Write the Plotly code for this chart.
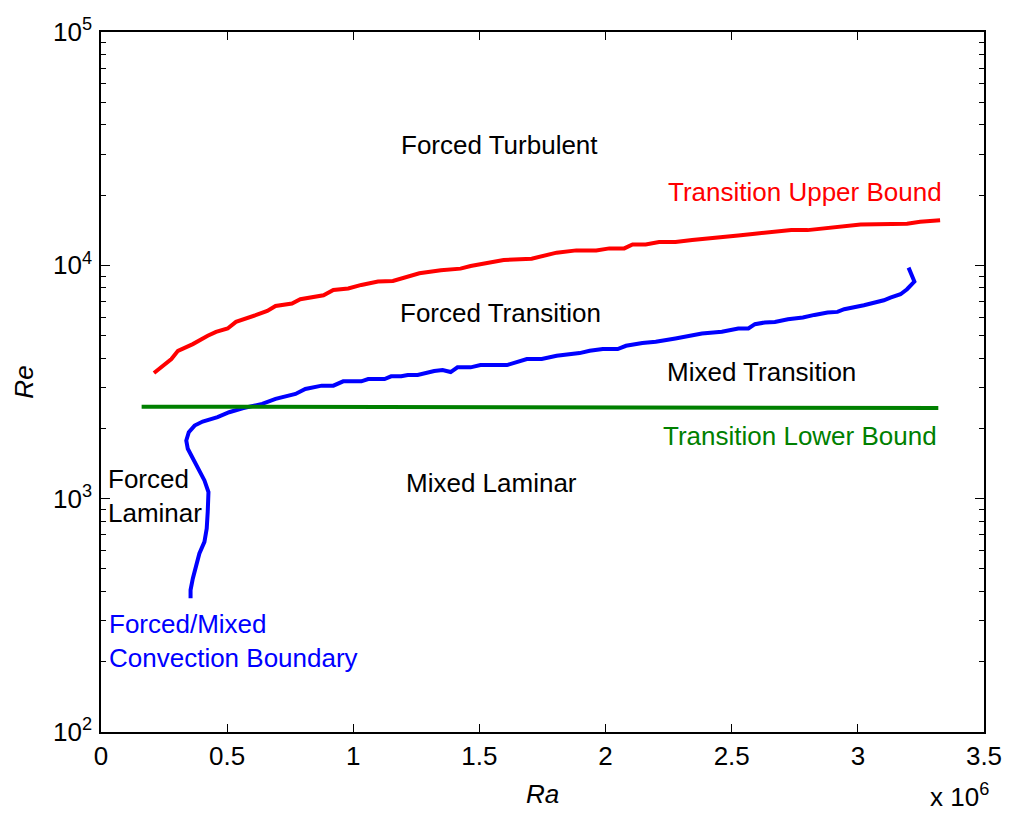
import math
import plotly.graph_objects as go

# Rayleigh number (units of 1e6) and Reynolds number along each regime boundary
upper_ra = [0.210, 0.246, 0.279, 0.305, 0.364, 0.423, 0.456, 0.502, 0.535, 0.613,
            0.659, 0.692, 0.757, 0.790, 0.849, 0.882, 0.921, 0.980, 1.032, 1.098,
            1.157, 1.203, 1.262, 1.347, 1.425, 1.465, 1.543, 1.596, 1.707, 1.806,
            1.884, 1.963, 2.015, 2.074, 2.107, 2.159, 2.212, 2.277, 2.343, 2.422,
            2.526, 2.592, 2.671, 2.736, 2.801, 2.854, 2.933, 3.011, 3.195, 3.247,
            3.326]
upper_re = [3455, 3712, 3966, 4302, 4597, 4989, 5188, 5364, 5723, 6113,
            6377, 6698, 6858, 7155, 7346, 7442, 7845, 7955, 8241, 8520,
            8571, 8861, 9244, 9520, 9681, 9931, 10268, 10534, 10680, 11332,
            11590, 11590, 11820, 11820, 12294, 12294, 12580, 12580, 12829, 13137,
            13436, 13664, 13932, 14155, 14155, 14349, 14723, 14970, 15073, 15375,
            15618]

boundary_ra = [0.355, 0.355, 0.364, 0.377, 0.390, 0.410, 0.419, 0.423, 0.426, 0.410,
               0.390, 0.371, 0.358, 0.344, 0.338, 0.348, 0.371, 0.403, 0.462, 0.508,
               0.561, 0.639, 0.692, 0.771, 0.810, 0.875, 0.921, 0.960, 1.032, 1.059,
               1.124, 1.150, 1.190, 1.216, 1.255, 1.295, 1.321, 1.354, 1.386, 1.413,
               1.465, 1.504, 1.609, 1.688, 1.747, 1.806, 1.897, 1.937, 1.989, 2.048,
               2.081, 2.146, 2.199, 2.277, 2.330, 2.382, 2.461, 2.526, 2.566, 2.592,
               2.631, 2.671, 2.723, 2.782, 2.828, 2.880, 2.919, 2.946, 3.024, 3.103,
               3.129, 3.169, 3.195, 3.224, 3.201]
boundary_re = [374, 406, 455, 519, 582, 653, 744, 877, 1068, 1197,
               1321, 1435, 1531, 1636, 1775, 1928, 2057, 2140, 2234, 2347,
               2441, 2547, 2676, 2811, 2953, 3050, 3050, 3184, 3184, 3257,
               3257, 3345, 3345, 3388, 3388, 3479, 3524, 3559, 3489, 3654,
               3654, 3737, 3737, 3966, 3966, 4096, 4206, 4302, 4375, 4375,
               4520, 4642, 4701, 4862, 4989, 5107, 5188, 5364, 5364, 5596,
               5689, 5723, 5877, 5976, 6131, 6279, 6317, 6486, 6745, 7085,
               7278, 7518, 7899, 8520, 9776]

lower_ra = [0.161, 3.319]
lower_re = [2480, 2445]

# Region labels: (text, Ra, Re, colour, horizontal anchor)
region_labels = [
    ("Forced Turbulent", 1.578, 32890, "black", "center"),
    ("Transition Upper Bound", 2.789, 20710, "#ff0000", "center"),
    ("Forced Transition", 1.584, 6236, "black", "center"),
    ("Mixed Transition", 2.619, 3489, "black", "center"),
    ("Transition Lower Bound", 2.769, 1859, "#008000", "center"),
    ("Mixed Laminar", 1.548, 1170, "black", "center"),
    ("Forced<br>Laminar", 0.018, 1030, "black", "left"),
    ("Forced/Mixed<br>Convection Boundary", 0.025, 245, "#0000ff", "left"),
]

x_ticks = [0, 0.5, 1, 1.5, 2, 2.5, 3, 3.5]
x_tick_text = ["0", "0.5", "1", "1.5", "2", "2.5", "3", "3.5"]
y_ticks = [1e2, 1e3, 1e4, 1e5]
y_tick_text = ["10<sup>2</sup>", "10<sup>3</sup>", "10<sup>4</sup>", "10<sup>5</sup>"]
y_minor = [k * 10 ** n for n in range(2, 5) for k in range(2, 10)]

FONT = "Liberation Sans, Arial, Helvetica, sans-serif"

fig = go.Figure()
fig.add_trace(go.Scatter(x=upper_ra, y=upper_re, mode="lines",
                         line=dict(color="#ff0000", width=4)))
fig.add_trace(go.Scatter(x=boundary_ra, y=boundary_re, mode="lines",
                         line=dict(color="#0000ff", width=4)))
fig.add_trace(go.Scatter(x=lower_ra, y=lower_re, mode="lines",
                         line=dict(color="#008000", width=4)))

# annotations on a log axis take their position as log10 of the value
for text, xv, yv, col, anchor in region_labels:
    fig.add_annotation(x=xv, y=math.log10(yv), xref="x", yref="y", text=text,
                       showarrow=False, xanchor=anchor, yanchor="middle", align="left",
                       font=dict(family=FONT, size=26, color=col))

# exponent multiplier for the Ra axis
fig.add_annotation(xref="paper", yref="paper", x=1.008, y=-0.091, text="x 10<sup>6</sup>",
                   showarrow=False, xanchor="right", yanchor="middle",
                   font=dict(family=FONT, size=26, color="black"))

fig.update_layout(
    width=1014, height=816,
    margin=dict(l=101, r=23, t=32, b=82),
    paper_bgcolor="white", plot_bgcolor="white",
    showlegend=False,
    font=dict(family=FONT, size=26, color="black"),
    xaxis=dict(range=[0, 3.5], tickvals=x_ticks, ticktext=x_tick_text,
               ticks="inside", ticklen=8, tickwidth=1, tickcolor="black",
               showline=True, linecolor="black", linewidth=1.5, mirror="allticks",
               showgrid=False, zeroline=False,
               title=dict(text="<i>Ra</i>", standoff=15, font=dict(size=26))),
    yaxis=dict(type="log", range=[2, 5], tickvals=y_ticks, ticktext=y_tick_text,
               ticks="inside", ticklen=9, tickwidth=1, tickcolor="black",
               showline=True, linecolor="black", linewidth=1.5, mirror="allticks",
               showgrid=False, zeroline=False, ticklabelstandoff=2,
               minor=dict(tickvals=y_minor, ticks="inside", ticklen=5,
                          tickwidth=1, tickcolor="black", showgrid=False),
               title=dict(text="<i>Re</i>", standoff=12, font=dict(size=26))),
)

fig.write_html("out.html")
